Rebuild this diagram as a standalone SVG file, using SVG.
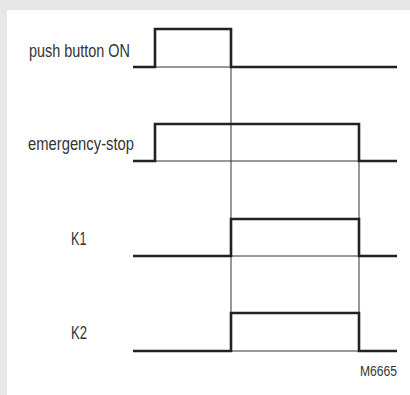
<svg xmlns="http://www.w3.org/2000/svg" width="410" height="395" viewBox="0 0 410 395">
<style>
.lbl{font-family:"Liberation Sans",Arial,sans-serif;font-size:17.5px;fill:#333;}
.klbl{font-family:"Liberation Sans",Arial,sans-serif;font-size:18.5px;fill:#333;}
.code{font-family:"Liberation Sans",Arial,sans-serif;font-size:15px;fill:#333;}
.sig{fill:none;stroke:#222;stroke-width:2.6;stroke-linejoin:miter;stroke-linecap:butt;}
.thin{fill:none;stroke:#333;stroke-width:1;}
</style>
<rect x="0" y="0" width="410" height="395" fill="#e6e7e9"/>
<rect x="7" y="10" width="403" height="385" fill="#ffffff"/>
<g id="connectors">
<path class="thin" d="M231,67 V351"/>
<path class="thin" d="M359,124 V351"/>
</g>
<g id="push-button">
<text class="lbl" x="29" y="56.5" textLength="101" lengthAdjust="spacingAndGlyphs">push button ON</text>
<path class="thin" d="M155,67 H231"/>
<path class="sig" d="M133,67 H155 V29 H231 V67 H397"/>
</g>
<g id="emergency-stop">
<text class="lbl" x="28" y="150" textLength="106" lengthAdjust="spacingAndGlyphs">emergency-stop</text>
<path class="thin" d="M155,161 H359"/>
<path class="sig" d="M133,161 H155 V124 H359 V161 H397"/>
</g>
<g id="k1">
<text class="klbl" x="71" y="244.5" textLength="15.5" lengthAdjust="spacingAndGlyphs">K1</text>
<path class="thin" d="M231,256 H359"/>
<path class="sig" d="M133,256 H231 V219 H359 V256 H397"/>
</g>
<g id="k2">
<text class="klbl" x="71" y="338.5" textLength="16" lengthAdjust="spacingAndGlyphs">K2</text>
<path class="thin" d="M231,351 H359"/>
<path class="sig" d="M133,351 H231 V313 H359 V351 H397"/>
</g>
<text class="code" x="360" y="375.5" textLength="37" lengthAdjust="spacingAndGlyphs">M6665</text>
</svg>
